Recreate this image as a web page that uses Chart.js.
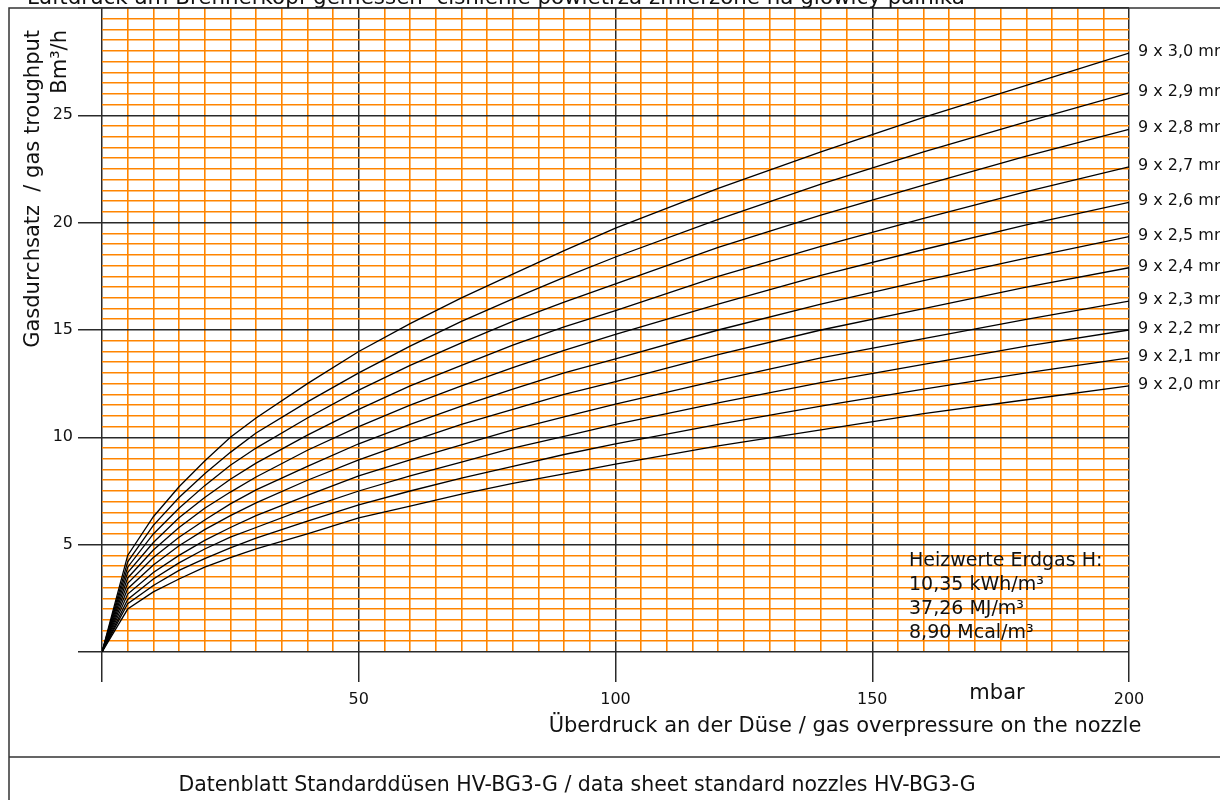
<!DOCTYPE html>
<html>
<head>
<meta charset="utf-8">
<script src="https://cdn.jsdelivr.net/npm/chart.js@4.4.1/dist/chart.umd.min.js"></script>
<style>
  body { margin: 0; background: #fff; }
  #wrap { width: 1220px; height: 800px; }
</style>
</head>
<body>
<div id="wrap"><canvas id="gas" width="1220" height="800"></canvas></div>
<script>
// overpressure at the nozzle, mbar
var pressure = [0, 5, 10, 15, 20, 25, 30, 40, 50, 60, 70, 80, 90, 100, 120, 140, 160, 180, 200];

// gas throughput Bm3/h for each nozzle set
var n30 = [0, 4.5, 6.3, 7.7, 8.9, 10.0, 10.9, 12.5, 14.0, 15.3, 16.5, 17.6, 18.7, 19.75, 21.6, 23.3, 24.9, 26.4, 27.9];
var n29 = [0, 4.2, 5.9, 7.2, 8.3, 9.3, 10.2, 11.65, 13.0, 14.25, 15.4, 16.45, 17.45, 18.4, 20.15, 21.8, 23.3, 24.7, 26.05];
var n28 = [0, 3.95, 5.5, 6.7, 7.75, 8.7, 9.5, 10.9, 12.2, 13.35, 14.4, 15.4, 16.3, 17.15, 18.85, 20.35, 21.75, 23.1, 24.35];
var n27 = [0, 3.7, 5.1, 6.25, 7.2, 8.05, 8.8, 10.1, 11.3, 12.4, 13.35, 14.3, 15.15, 15.9, 17.5, 18.9, 20.2, 21.45, 22.6];
var n26 = [0, 3.45, 4.75, 5.8, 6.7, 7.45, 8.15, 9.4, 10.5, 11.5, 12.4, 13.25, 14.05, 14.8, 16.2, 17.55, 18.75, 19.9, 20.95];
var n25 = [0, 3.2, 4.4, 5.35, 6.15, 6.9, 7.55, 8.65, 9.7, 10.6, 11.45, 12.25, 13.0, 13.65, 15.0, 16.2, 17.3, 18.35, 19.35];
var n24 = [0, 2.95, 4.05, 4.95, 5.7, 6.35, 6.95, 8.0, 8.95, 9.8, 10.6, 11.3, 12.0, 12.6, 13.85, 15.0, 16.0, 17.0, 17.9];
var n23 = [0, 2.7, 3.7, 4.5, 5.2, 5.8, 6.35, 7.3, 8.2, 8.95, 9.65, 10.35, 10.95, 11.55, 12.65, 13.7, 14.6, 15.5, 16.35];
var n22 = [0, 2.45, 3.4, 4.15, 4.8, 5.35, 5.8, 6.7, 7.5, 8.2, 8.85, 9.5, 10.05, 10.6, 11.6, 12.55, 13.4, 14.25, 15.0];
var n21 = [0, 2.25, 3.1, 3.8, 4.35, 4.85, 5.3, 6.1, 6.85, 7.5, 8.1, 8.65, 9.2, 9.7, 10.6, 11.45, 12.25, 13.0, 13.7];
var n20 = [0, 2.0, 2.8, 3.4, 3.95, 4.4, 4.8, 5.5, 6.25, 6.8, 7.35, 7.85, 8.3, 8.75, 9.6, 10.35, 11.1, 11.75, 12.4];

var seriesList = [n30, n29, n28, n27, n26, n25, n24, n23, n22, n21, n20];
var nozzleNames = ["9 x 3,0 mm", "9 x 2,9 mm", "9 x 2,8 mm", "9 x 2,7 mm", "9 x 2,6 mm", "9 x 2,5 mm",
                   "9 x 2,4 mm", "9 x 2,3 mm", "9 x 2,2 mm", "9 x 2,1 mm", "9 x 2,0 mm"];

var xMajorTicks = [50, 100, 150, 200];
var yMajorTicks = [5, 10, 15, 20, 25];

var infoLines = ["Heizwerte Erdgas H:", "10,35 kWh/m³", "37,26 MJ/m³", "8,90 Mcal/m³"];
var topTitle = "Luftdruck am Brennerkopf gemessen  ciśnienie powietrza zmierzone na głowicy palnika";
var yTitle = ["Gasdurchsatz  / gas troughput", "Bm³/h"];
var xTitle = "Überdruck an der Düse / gas overpressure on the nozzle";
var footer = "Datenblatt Standarddüsen HV-BG3-G / data sheet standard nozzles HV-BG3-G";

var FONT = '"DejaVu Sans", Verdana, sans-serif';
var ORANGE = '#ff8500';
var DARK = '#2a2a2a';

function isMajor(v, step) {
  if (v === undefined) return false;
  return Math.abs(v - Math.round(v / step) * step) < 1e-6;
}

var datasets = [];
for (var s = 0; s < seriesList.length; s++) {
  var pts = [];
  for (var i = 0; i < pressure.length; i++) {
    pts.push({x: pressure[i], y: seriesList[s][i]});
  }
  datasets.push({
    label: nozzleNames[s],
    data: pts,
    borderColor: '#000',
    borderWidth: 1.3,
    pointRadius: 0,
    tension: 0,
    fill: false
  });
}

// frame, titles, nozzle names and the info block
var sheetText = {
  id: 'sheetText',
  afterDraw: function(chart) {
    var ctx = chart.ctx;
    var yScale = chart.scales.y;
    ctx.save();

    ctx.strokeStyle = '#333';
    ctx.lineWidth = 1.5;
    ctx.beginPath();
    ctx.moveTo(9, 800); ctx.lineTo(9, 8); ctx.lineTo(1220, 8);
    ctx.moveTo(9, 757); ctx.lineTo(1220, 757);
    ctx.stroke();

    ctx.fillStyle = '#111';
    ctx.font = '21.4px ' + FONT;
    ctx.textBaseline = 'alphabetic';
    ctx.textAlign = 'left';
    ctx.fillText(topTitle, 27, 4);

    ctx.font = '21px ' + FONT;
    ctx.textBaseline = 'middle';
    ctx.textAlign = 'center';
    ctx.fillText(xTitle, 845, 727);
    ctx.fillText('mbar', 997, 694);
    ctx.font = '20.5px ' + FONT;
    ctx.fillText(footer, 577, 786);

    // rotated y title, both lines end at the top
    ctx.font = '21px ' + FONT;
    ctx.save();
    ctx.translate(34, 30);
    ctx.rotate(-Math.PI / 2);
    ctx.textAlign = 'right';
    ctx.fillText(yTitle[0], 0, 0);
    ctx.fillText(yTitle[1], 0, 27);
    ctx.restore();

    ctx.font = '16px ' + FONT;
    ctx.textAlign = 'left';
    for (var k = 0; k < seriesList.length; k++) {
      var last = seriesList[k][seriesList[k].length - 1];
      ctx.fillText(nozzleNames[k], 1138, yScale.getPixelForValue(last) - 1);
    }

    ctx.font = '19px ' + FONT;
    for (var j = 0; j < infoLines.length; j++) {
      ctx.fillText(infoLines[j], 909, 561 + j * 24);
    }
    ctx.restore();
  }
};

var chart = new Chart(document.getElementById('gas'), {
  type: 'line',
  data: { datasets: datasets },
  plugins: [sheetText],
  options: {
    responsive: false,
    animation: false,
    events: [],
    layout: { padding: { top: 8, right: 91, left: 0, bottom: 0 } },
    plugins: { legend: { display: false }, tooltip: { enabled: false } },
    scales: {
      x: {
        type: 'linear',
        min: 0, max: 200,
        border: { display: false },
        afterFit: function(scale) {
          scale.height = 148;
          scale.paddingLeft = 0;
          scale.paddingRight = 0;
        },
        grid: {
          color: function(c) { return isMajor(c.tick && c.tick.value, 50) ? DARK : ORANGE; },
          lineWidth: function(c) { return isMajor(c.tick && c.tick.value, 50) ? 1.5 : 1.6; },
          tickColor: function(c) { return isMajor(c.tick && c.tick.value, 50) ? DARK : 'rgba(0,0,0,0)'; },
          tickLength: 30
        },
        ticks: {
          stepSize: 5,
          autoSkip: false,
          maxRotation: 0,
          maxTicksLimit: 100,
          padding: 8,
          color: '#111',
          font: { family: FONT, size: 16 },
          callback: function(v) { return xMajorTicks.indexOf(v) >= 0 ? String(v) : ''; }
        }
      },
      y: {
        type: 'linear',
        min: 0, max: 30,
        border: { display: false },
        afterFit: function(scale) {
          scale.width = 102;
          scale.paddingTop = 0;
          scale.paddingBottom = 0;
        },
        grid: {
          color: function(c) { return isMajor(c.tick && c.tick.value, 5) ? DARK : ORANGE; },
          lineWidth: function(c) { return isMajor(c.tick && c.tick.value, 5) ? 1.5 : 1.6; },
          tickColor: function(c) { return isMajor(c.tick && c.tick.value, 5) ? DARK : 'rgba(0,0,0,0)'; },
          tickLength: 24
        },
        ticks: {
          stepSize: 0.5,
          autoSkip: false,
          maxTicksLimit: 100,
          padding: 5,
          color: '#111',
          font: { family: FONT, size: 16 },
          callback: function(v) {
            for (var m = 0; m < yMajorTicks.length; m++) {
              if (Math.abs(v - yMajorTicks[m]) < 1e-6) return String(yMajorTicks[m]);
            }
            return '';
          }
        }
      }
    }
  }
});
</script>
</body>
</html>
